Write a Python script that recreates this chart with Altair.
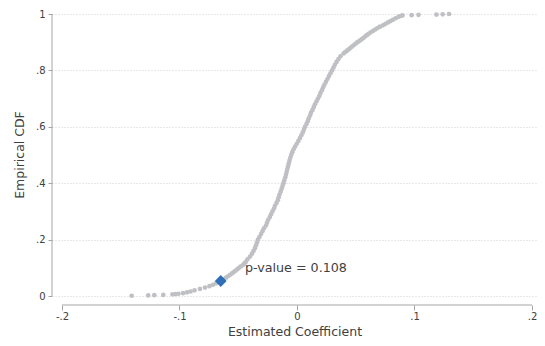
import altair as alt
import pandas as pd

# Empirical CDF (coefficient, cumulative share)
cdf = [0.001, 0.002, 0.003, 0.004, 0.006, 0.007, 0.008, 0.010, 0.013, 0.016,
       0.020, 0.025, 0.030, 0.035, 0.040, 0.045, 0.050, 0.055, 0.060, 0.065,
       0.070, 0.075, 0.080, 0.085, 0.090, 0.095, 0.100, 0.105, 0.110, 0.115,
       0.12, 0.13, 0.14, 0.15, 0.16, 0.17, 0.18, 0.19, 0.20, 0.21,
       0.22, 0.23, 0.24, 0.25, 0.26, 0.27, 0.28, 0.29, 0.30, 0.31,
       0.32, 0.33, 0.34, 0.35, 0.36, 0.37, 0.38, 0.39, 0.40, 0.41,
       0.42, 0.43, 0.44, 0.45, 0.46, 0.47, 0.48, 0.49, 0.50, 0.51,
       0.52, 0.53, 0.54, 0.55, 0.56, 0.57, 0.58, 0.59, 0.60, 0.61,
       0.62, 0.63, 0.64, 0.65, 0.66, 0.67, 0.68, 0.69, 0.70, 0.71,
       0.72, 0.73, 0.74, 0.75, 0.76, 0.77, 0.78, 0.79, 0.80, 0.81,
       0.82, 0.83, 0.84, 0.85, 0.86, 0.865, 0.87, 0.875, 0.88, 0.885,
       0.89, 0.895, 0.90, 0.905, 0.91, 0.915, 0.92, 0.925, 0.93, 0.935,
       0.94, 0.945, 0.95, 0.955, 0.96, 0.965, 0.97, 0.975, 0.98, 0.985,
       0.99, 0.993, 0.995, 0.996, 0.997, 0.998, 0.999, 1.000]
coef = [-0.1407, -0.1266, -0.1214, -0.1138, -0.1060, -0.1034, -0.1009, -0.0970, -0.0936, -0.0906,
        -0.0872, -0.0826, -0.0783, -0.0745, -0.0715, -0.0689, -0.0664, -0.0643, -0.0621, -0.0604,
        -0.0587, -0.0570, -0.0553, -0.0538, -0.0523, -0.0508, -0.0494, -0.0477, -0.0460, -0.0449,
        -0.0438, -0.0421, -0.0400, -0.0383, -0.0370, -0.0357, -0.0349, -0.0340, -0.0332, -0.0319,
        -0.0306, -0.0294, -0.0281, -0.0264, -0.0255, -0.0245, -0.0231, -0.0221, -0.0209, -0.0196,
        -0.0187, -0.0174, -0.0163, -0.0156, -0.0149, -0.0139, -0.0131, -0.0123, -0.0115, -0.0108,
        -0.0100, -0.0094, -0.0088, -0.0082, -0.0076, -0.0070, -0.0064, -0.0057, -0.0049, -0.0040,
        -0.0029, -0.0016, -0.0002, 0.0012, 0.0025, 0.0037, 0.0049, 0.0059, 0.0068, 0.0081,
        0.0092, 0.0100, 0.0111, 0.0119, 0.0132, 0.0143, 0.0153, 0.0166, 0.0179, 0.0191,
        0.0200, 0.0213, 0.0223, 0.0234, 0.0247, 0.0260, 0.0272, 0.0285, 0.0298, 0.0311,
        0.0322, 0.0336, 0.0353, 0.0370, 0.0396, 0.0410, 0.0426, 0.0441, 0.0455, 0.0470,
        0.0485, 0.0500, 0.0515, 0.0532, 0.0549, 0.0564, 0.0579, 0.0594, 0.0609, 0.0627,
        0.0647, 0.0666, 0.0685, 0.0706, 0.0732, 0.0753, 0.0774, 0.0796, 0.0817, 0.0840,
        0.0864, 0.0881, 0.0898, 0.0976, 0.1034, 0.1187, 0.1240, 0.1294]

# Observed coefficient and its label
obs_coef = [-0.0649]
obs_cdf = [0.0533]
label_text = ["p-value = 0.108"]
label_coef = [-0.0443]
label_cdf = [0.0976]

x_ticks = [-0.2, -0.1, 0, 0.1, 0.2]
y_ticks = [0, 0.2, 0.4, 0.6, 0.8, 1]
x_axis_span = [-0.2, 0.2]
y_axis_span = [0, 1]

FONT = "DejaVu Sans"
W, H = 485, 285
TXT = "#404040"
AX = "#a6a6a6"

pts = pd.DataFrame({"coef": coef, "cdf": cdf})
obs = pd.DataFrame({"coef": obs_coef, "cdf": obs_cdf})
lab = pd.DataFrame({"coef": label_coef, "cdf": label_cdf, "text": label_text})
xl = pd.DataFrame({"coef": [x_axis_span[0]], "coef2": [x_axis_span[1]]})
yl = pd.DataFrame({"cdf": [y_axis_span[0]], "cdf2": [y_axis_span[1]]})

fmt = ("datum.value < 0 ? '-' + replace(format(abs(datum.value), '.1~f'), '0.', '.') "
       ": replace(format(datum.value, '.1~f'), '0.', '.')")

xscale = alt.Scale(domain=[-0.2085, 0.20426], nice=False, zero=False)
yscale = alt.Scale(domain=[-0.0035, 1.0071], nice=False, zero=False)

x_axis = alt.Axis(
    values=x_ticks, labelExpr=fmt, offset=8, domain=False, grid=False,
    tickSize=5, tickColor=AX, labelFont=FONT, labelFontSize=10, labelColor=TXT,
    labelPadding=1, title="Estimated Coefficient", titleFont=FONT,
    titleFontSize=12.5, titleFontWeight="normal", titleColor=TXT, titlePadding=4)
y_axis = alt.Axis(
    values=y_ticks, labelExpr=fmt, domain=False, grid=True, gridColor="#d2d2d2",
    gridDash=[1, 2], gridWidth=1, tickSize=4, tickColor=AX, labelFont=FONT,
    labelFontSize=10, labelColor=TXT, labelPadding=3, title="Empirical CDF",
    titleFont=FONT, titleFontSize=12.5, titleFontWeight="normal", titleColor=TXT,
    titleX=-33, titleBaseline="middle", titleAngle=-90, titleAlign="center")

x_enc = alt.X("coef:Q", scale=xscale, axis=x_axis, title="Estimated Coefficient")
y_enc = alt.Y("cdf:Q", scale=yscale, axis=y_axis, title="Empirical CDF")

points = alt.Chart(pts).mark_circle(size=22, color="#bfc0c4", opacity=1).encode(x=x_enc, y=y_enc)
diamond = alt.Chart(obs).mark_point(shape="diamond", size=140, filled=True,
                                    color="#2f6fb8", opacity=1).encode(x=x_enc, y=y_enc)
text = alt.Chart(lab).mark_text(align="left", baseline="middle", font=FONT,
                                fontSize=12.7, color=TXT).encode(x=x_enc, y=y_enc, text="text:N")

xline = alt.Chart(xl).mark_rule(color=AX, strokeWidth=1).encode(
    x=x_enc, x2="coef2:Q", y=alt.value(H + 8))
yline = alt.Chart(yl).mark_rule(color=AX, strokeWidth=1).encode(
    y=y_enc, y2="cdf2:Q", x=alt.value(0))

chart = alt.layer(points, xline, yline, diamond, text).properties(
    width=W, height=H,
    autosize=alt.AutoSizeParams(type="none"),
    padding={"left": 44, "top": 4, "right": 0, "bottom": 41},
    background="white",
).configure_view(stroke=None)

chart.save("out.html", embed_options={"renderer": "svg", "actions": False})
